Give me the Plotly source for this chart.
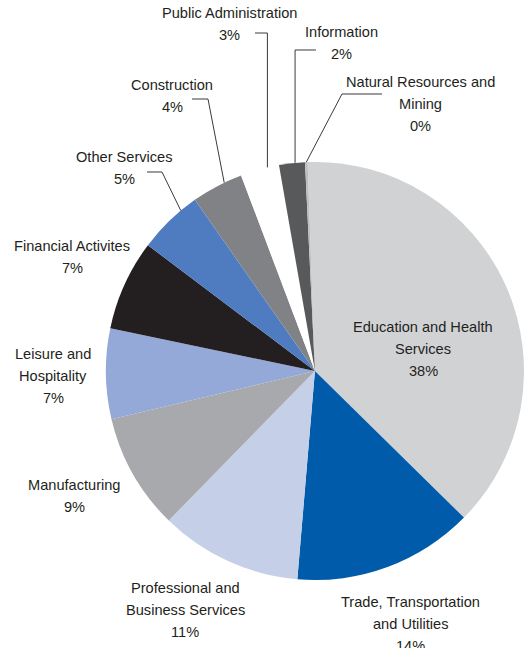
import math
import plotly.graph_objects as go

# Employment share by sector (percent), in clockwise order from the top
sectors = [
    "Education and Health Services",
    "Trade, Transportation and Utilities",
    "Professional and Business Services",
    "Manufacturing",
    "Leisure and Hospitality",
    "Financial Activites",
    "Other Services",
    "Construction",
    "Public Administration",
    "Information",
    "Natural Resources and Mining",
]
shares = [38, 14, 11, 9, 7, 7, 5, 4, 3, 2, 0.2]

# Label text broken over lines (the percentage line is appended from shares)
label_lines = [
    ["Education and Health", "Services"],
    ["Trade, Transportation", "and Utilities"],
    ["Professional and", "Business Services"],
    ["Manufacturing"],
    ["Leisure and", "Hospitality"],
    ["Financial Activites"],
    ["Other Services"],
    ["Construction"],
    ["Public Administration"],
    ["Information"],
    ["Natural Resources and", "Mining"],
]

colors = [
    "#d1d2d4", "#005baa", "#c5cfe8", "#a7a9ac", "#95a9d8", "#231f20",
    "#4f7cc0", "#808285", "#ffffff", "#58595b", "#bcbec0",
]

# ---- layout constants (pixels, origin top-left) ----
W, H = 524, 648
DOM_X = [0.202, 1.0]
CY = 371
ROTATION = -2
FONT = "Liberation Sans, Arial, Helvetica, sans-serif"
FONT_SIZE = 14.6
LINE_PITCH = 22
TEXT_COLOR = "#231f20"
LINE_COLOR = "#3a3a3a"

R = (DOM_X[1] - DOM_X[0]) * W / 2
CX = (DOM_X[0] + DOM_X[1]) / 2 * W
DOM_Y = [1 - (CY + R) / H, 1 - (CY - R) / H]

# Label block positions: centre x and first-line centre y
label_pos = [
    (423, 327), (410, 602), (185, 588), (74, 485), (53, 354), (72, 246),
    (124, 157), (172, 85), (229, 13), (341, 32), (420, 82),
]

# Leader lines: fraction along the slice where the line meets the edge,
# start of the short horizontal stub, and the elbow (None x = drop straight down)
leaders = {
    6: dict(frac=0.73, start=(147, 172), elbow=(162, 172)),
    7: dict(frac=0.65, start=(192, 99), elbow=(208, 99)),
    8: dict(frac=0.70, start=(255, 33), elbow=(None, 33)),
    9: dict(frac=0.62, start=(316, 50), elbow=(None, 50)),
    10: dict(frac=0.5, start=(382, 94), elbow=(342, 94)),
}


def px(x, y):
    return x / W, 1 - y / H


total = sum(shares)


def edge_point(i, frac):
    before = sum(shares[:i])
    ang = ROTATION + (before + frac * shares[i]) / total * 360
    a = math.radians(ang)
    return CX + R * math.sin(a), CY - R * math.cos(a)


fig = go.Figure(
    go.Pie(
        labels=sectors,
        values=shares,
        marker=dict(colors=colors, line=dict(width=0)),
        sort=False,
        direction="clockwise",
        rotation=ROTATION,
        textinfo="none",
        hoverinfo="label+percent",
        domain=dict(x=DOM_X, y=DOM_Y),
        showlegend=False,
    )
)

annotations = []
for i, lines in enumerate(label_lines):
    lx, ly = label_pos[i]
    for k, line in enumerate(lines + [f"{round(shares[i])}%"]):
        x, y = px(lx, ly + k * LINE_PITCH)
        annotations.append(
            dict(
                x=x, y=y, xref="paper", yref="paper", text=line, showarrow=False,
                xanchor="center", yanchor="middle", align="center",
                font=dict(family=FONT, size=FONT_SIZE, color=TEXT_COLOR),
            )
        )

shapes = []
for i, cfg in leaders.items():
    ex, ey = edge_point(i, cfg["frac"])
    bx, by = cfg["elbow"]
    if bx is None:
        bx = ex
    pts = [cfg["start"], (bx, by), (ex, ey)]
    path = "M " + " L ".join(f"{px(a, b)[0]:.5f},{px(a, b)[1]:.5f}" for a, b in pts)
    shapes.append(
        dict(type="path", xref="paper", yref="paper", path=path,
             line=dict(color=LINE_COLOR, width=1))
    )

fig.update_layout(
    width=W,
    height=H,
    margin=dict(l=0, r=0, t=0, b=0),
    paper_bgcolor="white",
    plot_bgcolor="white",
    annotations=annotations,
    shapes=shapes,
)

fig.write_html("out.html")
